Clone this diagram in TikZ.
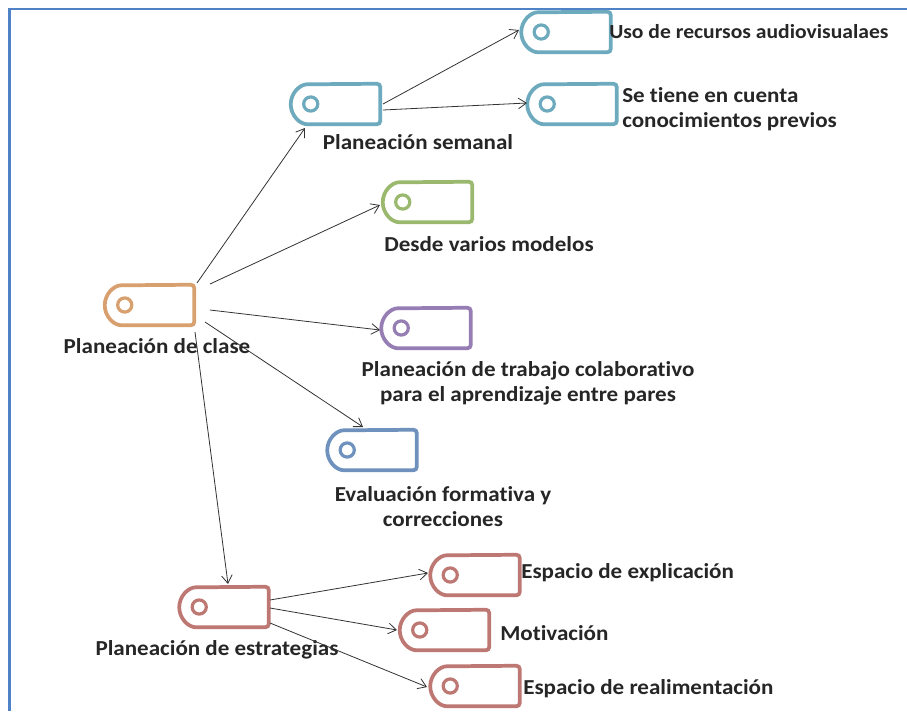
\documentclass[tikz,border=0pt]{standalone}
\usepackage{fontspec}
\setmainfont{Carlito}[Ligatures=NoCommon, FakeStretch=1.08]
\usetikzlibrary{arrows.meta,calc}
\definecolor{cOrange}{RGB}{215,160,110}
\definecolor{cTeal}{RGB}{110,170,190}
\definecolor{cGreen}{RGB}{155,185,110}
\definecolor{cPurple}{RGB}{150,125,180}
\definecolor{cSteel}{RGB}{110,145,190}
\definecolor{cRed}{RGB}{190,120,115}
\definecolor{cFrame}{RGB}{80,130,200}
\tikzset{
  tagbox/.style={minimum width=66.75pt, minimum height=30pt, inner sep=0pt, draw=none},
  tagline/.style={line width=2.8pt, rounded corners=2.5pt},
  ringline/.style={line width=2.4pt},
  lbl/.style={font=\bfseries\fontsize{16}{18.75}\selectfont, inner sep=0pt, text=black!85},
  conn/.style={line width=0.6pt, black!80, -{Straight Barb[length=6pt,width=8pt]}},
}
\newcommand{\tagshape}[4]{%
  \node[tagbox] (#1) at (#2,#3) {};
  \draw[tagline, draw=#4] ([xshift=15pt]#1.south west) arc[start angle=270, end angle=90, radius=15pt] -- (#1.north east) -- (#1.south east) -- cycle;
  \draw[ringline, draw=#4] ([xshift=15pt]#1.west) circle[radius=5.3pt];
}
\begin{document}
\begin{tikzpicture}[x=0.75pt,y=-0.75pt]
\useasboundingbox (0,0) rectangle (907,711);
\fill[white] (0,0) rectangle (907,711);
\draw[cFrame, line width=1.8pt] (9.5,711) -- (9.5,9) -- (907,9);

\tagshape{clase}{149.5}{305}{cOrange}
\tagshape{semanal}{335.5}{104}{cTeal}
\tagshape{uso}{566}{32}{cTeal}
\tagshape{tiene}{572}{104}{cTeal}
\tagshape{modelos}{427.5}{202}{cGreen}
\tagshape{colab}{426}{328}{cPurple}
\tagshape{eval}{372}{450}{cSteel}
\tagshape{estrat}{224}{607}{cRed}
\tagshape{explic}{475}{575}{cRed}
\tagshape{motiv}{444.5}{630}{cRed}
\tagshape{realim}{475}{686}{cRed}

\node[lbl] (tclase) at (157,346) {Planeación de clase};
\node[lbl] (tsemanal) at (418,142) {Planeación semanal};
\node[lbl, anchor=west, font=\bfseries\fontsize{15}{18.75}\selectfont] (tuso) at (609,32) {Uso de recursos audiovisualaes};
\node[lbl, anchor=west, align=left] (ttiene) at (622,109) {Se tiene en cuenta\\conocimientos previos};
\node[lbl] (tmodelos) at (489,244) {Desde varios modelos};
\node[lbl, align=center] (tcolab) at (528,383.5) {Planeación de trabajo colaborativo\\para el aprendizaje entre pares};
\node[lbl, align=center] (teval) at (443,506.5) {Evaluación formativa y\\correcciones};
\node[lbl] (testrat) at (217,650) {Planeación de estrategias};
\node[lbl, anchor=west] (texplic) at (521,573) {Espacio de explicación};
\node[lbl, anchor=west] (tmotiv) at (500,633) {Motivación};
\node[lbl, anchor=west] (trealim) at (523,689) {Espacio de realimentación};

\draw[conn] ($(clase)+(47.5,-22)$) -- ($(semanal)+(-30.5,24)$);
\draw[conn] ($(clase)+(60.5,-21)$) -- ($(modelos)+(-47.5,3)$);
\draw[conn] ($(clase)+(60.5,5)$) -- ($(colab)+(-46,2)$);
\draw[conn] ($(clase)+(55.5,17)$) -- ($(eval)+(-9,-23)$);
\draw[conn] ($(clase)+(45.5,27)$) -- ($(estrat)+(4,-23)$);
\draw[conn] ($(semanal)+(47.5,0)$) -- ($(uso)+(-47,-2)$);
\draw[conn] ($(semanal)+(47.5,6)$) -- ($(tiene)+(-45,-1)$);
\draw[conn] ($(estrat)+(46,-7)$) -- ($(explic)+(-47,-2)$);
\draw[conn] ($(estrat)+(46,1)$) -- ($(motiv)+(-47.5,0)$);
\draw[conn] ($(estrat)+(46,16)$) -- ($(realim)+(-48,1)$);
\end{tikzpicture}
\end{document}
